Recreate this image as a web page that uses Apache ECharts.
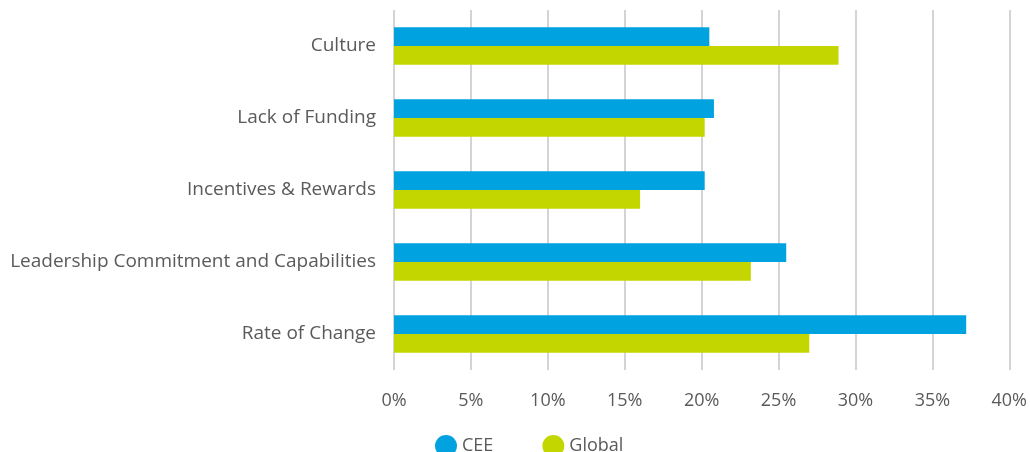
<!DOCTYPE html>
<html>
<head>
<meta charset="utf-8">
<style>
  html, body { margin: 0; padding: 0; background: #fff; }
  #main { width: 1030px; height: 452px; }
</style>
<script src="https://cdn.jsdelivr.net/npm/echarts@6/dist/echarts.min.js"></script>
</head>
<body>
<div id="main"></div>
<script>
// categories, top to bottom as in the picture
const categories = ['Culture', 'Lack of Funding', 'Incentives & Rewards', 'Leadership Commitment and Capabilities', 'Rate of Change'];
const ceeValues = [20.5, 20.8, 20.2, 25.5, 37.2];
const globalValues = [28.9, 20.2, 16.0, 23.2, 27.0];
const seriesNames = ['CEE', 'Global'];

var chart = echarts.init(document.getElementById('main'));
var textColor = '#5a5a5a';
var font = '"Open Sans", sans-serif';

var option = {
  animation: false,
  textStyle: { fontFamily: font },
  color: ['#00a3e0', '#c4d600'],
  grid: {
    left: 394,
    right: 17,
    top: 10,
    bottom: 82
  },
  legend: {
    left: 430,
    top: 430,
    icon: 'circle',
    itemWidth: 22,
    itemHeight: 22,
    itemGap: 49,
    textStyle: { color: textColor, fontSize: 18, fontFamily: font }
  },
  xAxis: {
    type: 'value',
    min: 0,
    max: 40,
    interval: 5,
    axisLine: { show: false },
    axisTick: { show: false },
    splitLine: { lineStyle: { color: '#d4d4d4', width: 2 } },
    axisLabel: {
      color: textColor,
      fontSize: 18,
      margin: 22,
      formatter: '{value}%'
    }
  },
  yAxis: {
    type: 'category',
    inverse: true,
    data: categories,
    axisLine: { show: false },
    axisTick: { show: false },
    axisLabel: { color: textColor, fontSize: 19, margin: 18 }
  },
  series: [
    {
      name: seriesNames[0],
      type: 'bar',
      data: ceeValues,
      barGap: '0%',
      barCategoryGap: '48%'
    },
    {
      name: seriesNames[1],
      type: 'bar',
      data: globalValues
    }
  ]
};
chart.setOption(option);
</script>
</body>
</html>
